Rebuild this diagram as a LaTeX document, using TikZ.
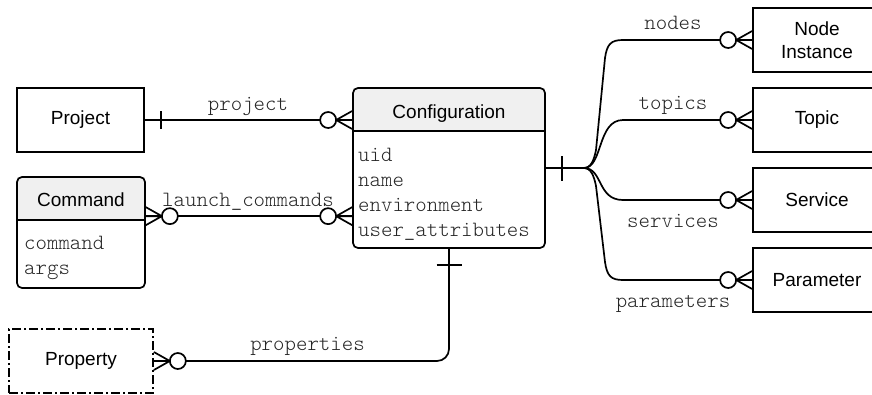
\documentclass[tikz,border=0pt]{standalone}
\usepackage{fontspec}
\setmainfont{Liberation Sans}
\newfontfamily\monof{Latin Modern Mono Light}
\usetikzlibrary{calc,backgrounds}
\begin{document}
\begin{tikzpicture}[x=1pt,y=1pt,
  lw/.style={line width=1.7pt},
  ent/.style={draw, lw, minimum width=128pt, minimum height=64pt, inner sep=0pt, font=\fontsize{19}{23.3}\selectfont, align=center},
  tbl/.style={draw, lw, rounded corners=5pt, inner sep=0pt},
  attr/.style={font=\monof\fontsize{21.8}{23}\selectfont, anchor=base west, inner sep=0pt, text=black!85},
  rel/.style={font=\monof\fontsize{21.8}{23}\selectfont, anchor=base, inner sep=0pt, text=black!85},
  ttl/.style={font=\fontsize{19}{23}\selectfont, anchor=base, inner sep=0pt},
  conn/.style={lw, line join=round},
  hdr/.style={fill=black!6},
  zmany/.pic={\draw[conn] (0,0) -- (16,0) (0,9) -- (16,0) -- (0,-9); \draw[conn,fill=white] (24,0) circle[radius=8pt];},
  one/.pic={\draw[conn] (16,-9) -- (16,9);},
  onebig/.pic={\draw[conn] (16,-12.5) -- (16,12.5);},
]
\useasboundingbox (0,0) rectangle (872,-394);
% entities
\node[ent, minimum width=127pt] (project) at (80.5,-120) {Project};
\node[tbl, minimum width=128pt, minimum height=111pt] (command) at (81,-232.5) {};
\node[tbl, minimum width=192pt, minimum height=160pt] (config) at (449,-168) {};
\node[ent, dash pattern=on 9pt off 3pt on 2pt off 3pt, minimum width=144pt] (property) at (81,-361) {Property};
\node[ent] (ni) at (817,-40) {Node\\Instance};
\node[ent] (topic) at (817,-120) {Topic};
\node[ent] (service) at (817,-200) {Service};
\node[ent] (param) at (817,-280) {Parameter};
% table headers
\begin{scope}[on background layer]
\fill[hdr, rounded corners=5pt] (config.north west) rectangle ($(config.north east)+(0,-44)$);
\fill[hdr] ($(config.north west)+(0,-20)$) rectangle ($(config.north east)+(0,-44)$);
\fill[hdr, rounded corners=5pt] (command.north west) rectangle ($(command.north east)+(0,-44)$);
\fill[hdr] ($(command.north west)+(0,-20)$) rectangle ($(command.north east)+(0,-44)$);
\end{scope}
\draw[lw] ($(config.north west)+(0,-44)$) -- ($(config.north east)+(0,-44)$);
\draw[lw] ($(command.north west)+(0,-44)$) -- ($(command.north east)+(0,-44)$);
\node[ttl] (configt) at (449,-118) {Configuration};
\node[ttl] (commandt) at (81,-206) {Command};
\node[attr] (a1) at (358,-161) {uid};
\node[attr] (a2) at (358,-186) {name};
\node[attr] (a3) at (358,-211) {environment};
\node[attr] (a4) at (358,-236) {user\_attributes};
\node[attr] (c1) at (24,-249) {command};
\node[attr] (c2) at (24,-274) {args};
% connectors
\draw[conn] (project.east) -- (project.east -| config.west);
\coordinate (cmdc) at ($(command.north east)+(0,-40)$);
\draw[conn] (cmdc) -- (cmdc -| config.west);
\draw[conn, rounded corners=12pt] (config.south) |- (property.east);
\draw[conn] (config.east) -- ++(38,0) coordinate (br);
\draw[conn] (br) .. controls (591,-168) and (594,-160) .. (596,-150) -- (605,-58) .. controls (607,-44) and (611,-40) .. (623,-40) -- (ni.west);
\draw[conn] (br) .. controls (603,-168) and (597,-120) .. (623,-120) -- (topic.west);
\draw[conn] (br) .. controls (603,-168) and (597,-200) .. (623,-200) -- (service.west);
\draw[conn] (br) .. controls (591,-168) and (594,-176) .. (596,-186) -- (605,-262) .. controls (607,-276) and (611,-280) .. (623,-280) -- (param.west);
% ends
\pic at (project.east) {one};
\pic[rotate=180] at (project.east -| config.west) {zmany};
\pic at (cmdc) {zmany};
\pic[rotate=180] at (cmdc -| config.west) {zmany};
\pic[rotate=-90] at (config.south) {onebig};
\pic at (property.east) {zmany};
\pic at (config.east) {onebig};
\pic[rotate=180] at (ni.west) {zmany};
\pic[rotate=180] at (topic.west) {zmany};
\pic[rotate=180] at (service.west) {zmany};
\pic[rotate=180] at (param.west) {zmany};
% labels
\node[rel] (lproject) at (248,-110) {project};
\node[rel] (llaunch) at (248,-206) {launch\_commands};
\node[rel] (lprops) at (307.5,-350) {properties};
\node[rel] (lnodes) at (673,-29) {nodes};
\node[rel] (ltopics) at (673,-109) {topics};
\node[rel] (lservices) at (673,-227) {services};
\node[rel] (lparams) at (673,-307) {parameters};
\end{tikzpicture}
\end{document}
